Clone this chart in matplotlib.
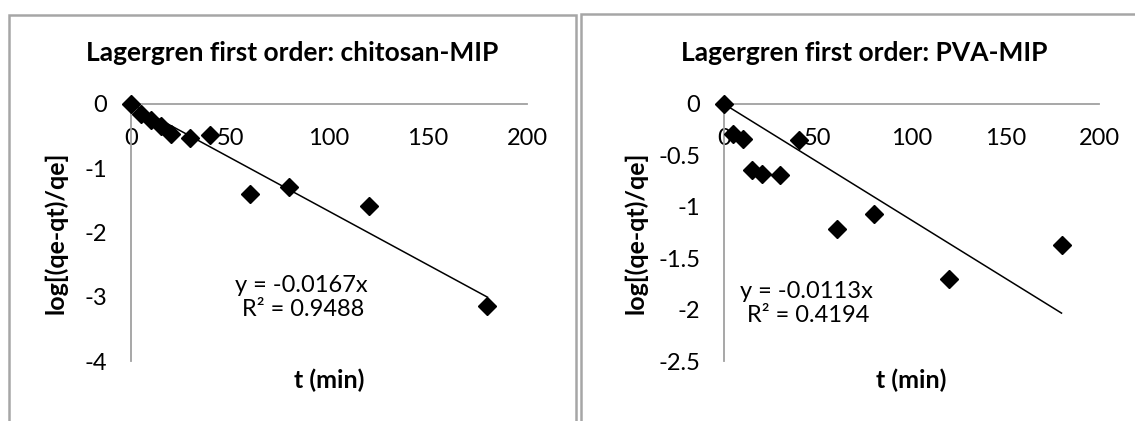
import matplotlib
matplotlib.use("Agg")
import matplotlib.pyplot as plt
from matplotlib.patches import Rectangle
import numpy as np

plt.rcParams['font.family'] = ['Lato', 'DejaVu Sans']

# ---- data ----
t_min = [0, 5, 10, 15, 20, 30, 40, 60, 80, 120, 180]
chitosan_y = [0, -0.15, -0.25, -0.34, -0.47, -0.53, -0.48, -1.40, -1.29, -1.58, -3.15]
pva_y = [0, -0.29, -0.34, -0.64, -0.68, -0.69, -0.35, -1.22, -1.07, -1.70, -1.37]
chitosan_slope = -0.0167
pva_slope = -0.0113
chitosan_eq = ["y = -0.0167x", "R² = 0.9488"]
pva_eq = ["y = -0.0113x", "R² = 0.4194"]
titles = ["Lagergren first order: chitosan-MIP", "Lagergren first order: PVA-MIP"]
x_ticks = [0, 50, 100, 150, 200]
chitosan_yticks = [0, -1, -2, -3, -4]
pva_yticks = [0, -0.5, -1, -1.5, -2, -2.5]
pva_yticklabels = ["0", "-0.5", "-1", "-1.5", "-2", "-2.5"]
xlabel = "t (min)"
ylabel = "log[(qe-qt)/qe]"

W, H = 1135, 421
fig = plt.figure(figsize=(W / 100, H / 100), dpi=100)
fig.patch.set_facecolor("white")

def fx(px):
    return px / W

def fy(py):
    return 1 - py / H

# chart borders
for (x0, x1, y0) in [(9, 576, 15), (581, 1160, 14)]:
    fig.patches.append(Rectangle((fx(x0), fy(440)), fx(x1) - fx(x0), fy(y0) - fy(440),
                                 transform=fig.transFigure, fill=False,
                                 edgecolor="#a6a6a6", linewidth=1.8))

AX_COL = "#a0a0a0"
TICK_FS = 17
LAB_FS = 18
EQ_FS = 17
TITLE_FS = 19

def make_panel(left_px, right_px, ys, slope, yticks, yticklabels, ylim, title, title_cx,
               eq, eq_pos, ylab_x):
    top_px, bot_px = 104, 361
    ax = fig.add_axes([fx(left_px), fy(bot_px), fx(right_px - left_px), (bot_px - top_px) / H])
    ax.set_xlim(0, 200)
    ax.set_ylim(*ylim)
    ax.patch.set_alpha(0)
    for s in ["top", "right"]:
        ax.spines[s].set_visible(False)
    ax.spines["bottom"].set_position(("data", 0))
    for s in ["bottom", "left"]:
        ax.spines[s].set_color(AX_COL)
        ax.spines[s].set_linewidth(1.3)
    ax.set_xticks(x_ticks)
    ax.set_xticklabels([str(v) for v in x_ticks])
    ax.set_yticks(yticks)
    ax.set_yticklabels(yticklabels)
    ax.tick_params(axis="both", length=0, labelsize=TICK_FS, colors="black")
    ax.tick_params(axis="x", pad=17)
    ax.tick_params(axis="y", pad=17)
    xs = np.array([0, max(t_min)])
    ax.plot(xs, slope * xs, color="black", linewidth=1.1, zorder=2)
    ax.plot(t_min, ys, linestyle="none", marker="D", markersize=8.8,
            color="black", clip_on=False, zorder=3)
    fig.text(fx(title_cx), fy(53), title, ha="center", va="center",
             fontsize=TITLE_FS, fontweight="bold")
    fig.text(fx((left_px + right_px) / 2), fy(380), xlabel, ha="center", va="center",
             fontsize=LAB_FS, fontweight="bold")
    fig.text(fx(ylab_x), fy((top_px + bot_px) / 2), ylabel, ha="center", va="center",
             rotation=90, fontsize=LAB_FS, fontweight="bold")
    fig.text(fx(eq_pos[0][0]), fy(eq_pos[0][1]), eq[0], ha="center", va="center", fontsize=EQ_FS)
    fig.text(fx(eq_pos[1][0]), fy(eq_pos[1][1]), eq[1], ha="center", va="center", fontsize=EQ_FS)
    return ax

make_panel(131, 527, chitosan_y, chitosan_slope, chitosan_yticks,
           [str(v) for v in chitosan_yticks], (-4, 0), titles[0], 292,
           chitosan_eq, [(301, 286), (303, 310)], 56)
make_panel(724, 1099, pva_y, pva_slope, pva_yticks, pva_yticklabels,
           (-2.5, 0), titles[1], 864, pva_eq, [(806, 291), (808, 315)], 636)

fig.savefig("out.png", dpi=100, facecolor="white")
